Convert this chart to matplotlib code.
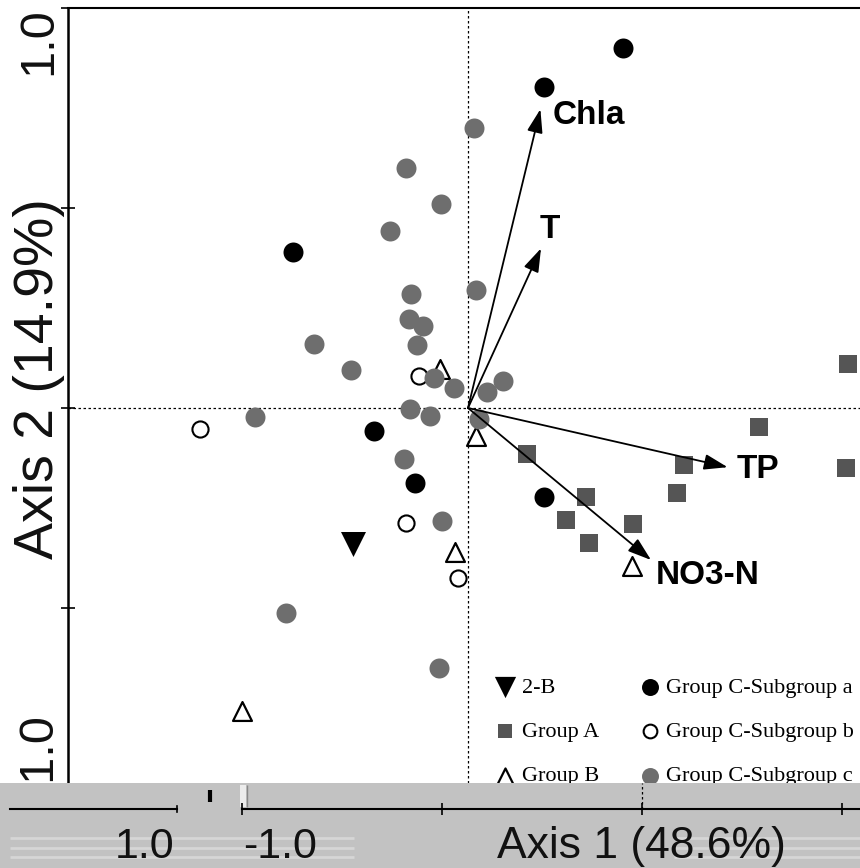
import matplotlib
matplotlib.use("Agg")
import matplotlib.pyplot as plt

plt.rcParams["font.family"] = ["Liberation Sans", "DejaVu Sans"]

# ---------------------------------------------------------------- data
group_a_x = [0.949, 0.728, 0.945, 0.541, 0.5225, 0.1475, 0.295, 0.245, 0.412, 0.302]
group_a_y = [0.110, -0.048, -0.151, -0.1425, -0.213, -0.115, -0.222, -0.280, -0.291, -0.338]

group_b_x = [-0.070, 0.020, -0.0325, 0.409, -0.566]
group_b_y = [0.0975, -0.070, -0.359, -0.394, -0.757]

b2_x = [-0.287]
b2_y = [-0.340]

sub_a_x = [0.387, 0.191, -0.438, -0.234, -0.133, 0.189]
sub_a_y = [0.899, 0.803, 0.391, -0.057, -0.188, -0.222]

sub_b_x = [-0.670, -0.123, -0.155, -0.026]
sub_b_y = [-0.0525, 0.081, -0.288, -0.426]

sub_c_x = [-0.154, -0.068, -0.195, 0.016, -0.142, 0.019, -0.147, -0.113,
           -0.127, -0.386, -0.2925, -0.086, -0.036, 0.087, 0.047, -0.533,
           -0.144, -0.094, 0.027, -0.161, -0.065, -0.455, -0.072]
sub_c_y = [0.599, 0.509, 0.443, 0.699, 0.285, 0.295, 0.2225, 0.205,
           0.1575, 0.160, 0.094, 0.0745, 0.0495, 0.067, 0.039, -0.023,
           -0.0025, -0.020, -0.0275, -0.1275, -0.282, -0.512, -0.649]

env_names = ["Chla", "T", "TP", "NO3-N"]
env_x = [0.181, 0.1825, 0.649, 0.4575]
env_y = [0.747, 0.399, -0.148, -0.380]
env_label_x = [0.3025, 0.205, 0.725, 0.600]
env_label_y = [0.730, 0.445, -0.155, -0.4175]

W, H = 860, 868

fig = plt.figure(figsize=(W / 100, H / 100), dpi=100)
ax = fig.add_axes([68 / W, (H - 808) / H, 800 / W, 800 / H])
ax.set_xlim(-1, 1)
ax.set_ylim(-1, 1)

ax.axhline(0, color="black", lw=0.9, ls=(0, (2, 2)), zorder=1)
ax.axvline(0, color="black", lw=0.9, ls=(0, (2, 2)), zorder=1)

ax.scatter(b2_x, b2_y, marker="v", s=324, color="black", lw=0, label="2-B", zorder=3)
ax.scatter(group_a_x, group_a_y, marker="s", s=155, color="#555555", lw=0,
           label="Group A", zorder=3)
ax.scatter(group_b_x, group_b_y, marker="^", s=185, facecolor="white",
           edgecolor="black", lw=1.6, label="Group B", zorder=3)
ax.scatter(sub_a_x, sub_a_y, marker="o", s=207, color="black", lw=0,
           label="Group C-Subgroup a", zorder=3)
ax.scatter(sub_b_x, sub_b_y, marker="o", s=135, facecolor="white",
           edgecolor="black", lw=1.5, label="Group C-Subgroup b", zorder=3)
ax.scatter(sub_c_x, sub_c_y, marker="o", s=207, color="#6e6e6e", lw=0,
           label="Group C-Subgroup c", zorder=3)

for name, dx, dy, lx, ly in zip(env_names, env_x, env_y, env_label_x, env_label_y):
    ax.annotate("", xy=(dx, dy), xytext=(0, 0),
                arrowprops=dict(arrowstyle="-|>,head_length=0.6,head_width=0.2",
                                color="black", lw=1.3, shrinkA=0, shrinkB=0,
                                mutation_scale=24),
                zorder=5)
    ax.text(lx, ly, name, fontsize=24, fontweight="bold", ha="center",
            va="center", zorder=6)

for side in ["right", "bottom"]:
    ax.spines[side].set_visible(False)
ax.spines["left"].set_linewidth(1.8)
ax.spines["top"].set_linewidth(1.5)
ax.set_xticks([])
ax.set_yticks([-1, -0.5, 0, 0.5, 1])
ax.tick_params(axis="y", direction="inout", length=10, width=1.2, labelleft=False)

ax.text(-0.036, 0.958, "1.0", transform=ax.transAxes, rotation=90,
        fontsize=35, ha="center", va="center", color="#111111")
ax.text(-0.036, 0.066, "-1.0", transform=ax.transAxes, rotation=90,
        fontsize=35, ha="center", va="center", color="#111111")
ax.text(-0.036, 0.537, "Axis 2 (14.9%)", transform=ax.transAxes, rotation=90,
        fontsize=40, ha="center", va="center", color="#111111")

leg = ax.legend(loc="upper left", bbox_to_anchor=(0.534, 0.163), ncol=2,
                frameon=False, borderpad=0, borderaxespad=0,
                prop={"family": "Liberation Serif", "size": 16},
                markerscale=0.85, handlelength=0.9, handletextpad=0.3,
                columnspacing=1.82, labelspacing=1.06)

# ---------------------------------------------------------------- grey strip at the bottom
band = fig.add_axes([0, 0, 1, 85 / H])
band.set_facecolor("#c2c2c2")
band.set_xlim(-1.605, 0.545)
band.set_ylim(0, 1)
for side in ["left", "right", "top"]:
    band.spines[side].set_visible(False)
line_y = (H - 809) / 85
band.spines["bottom"].set_position(("axes", line_y))
band.spines["bottom"].set_bounds(-1.0, 0.545)
band.spines["bottom"].set_linewidth(1.5)
band.set_xticks([-1, -0.5, 0, 0.5])
band.tick_params(axis="x", direction="inout", length=8, width=1.2, labelbottom=False)
band.set_yticks([])

# light scan streaks behind the axis texts
for sy in [(H - 838) / 85, (H - 848) / 85, (H - 857) / 85]:
    band.hlines(sy, -1.58, -0.72, color="#d6d6d6", lw=2, zorder=0.5)
    band.hlines(sy, 0.08, 0.545, color="#d6d6d6", lw=2, zorder=0.5)

band.plot([-1.58, -1.1625], [line_y, line_y], color="black", lw=1.5)
band.plot([-1.1625, -1.1625], [line_y - 0.04, line_y + 0.04], color="black", lw=1.2)
band.axvline(0, ymin=line_y, ymax=1, color="black", lw=0.9, ls=(0, (2, 2)))
band.vlines(-1.08, 0.776, 0.918, color="black", lw=3)
band.axvspan(-1.005, -0.99, 0.718, 0.976, color="#ececec", lw=0)
band.vlines(-0.9875, 0.718, 0.976, color="#888888", lw=1)

base = (H - 858) / 85
band.text(-1.2425, base, "1.0", fontsize=31, ha="center", va="baseline", color="#111111")
band.text(-0.905, base, "-1.0", fontsize=31, ha="center", va="baseline", color="#111111")
band.text(-0.0025, base, "Axis 1 (48.6%)", fontsize=32, ha="center", va="baseline",
          color="#111111")

fig.savefig("out.png", dpi=100)
